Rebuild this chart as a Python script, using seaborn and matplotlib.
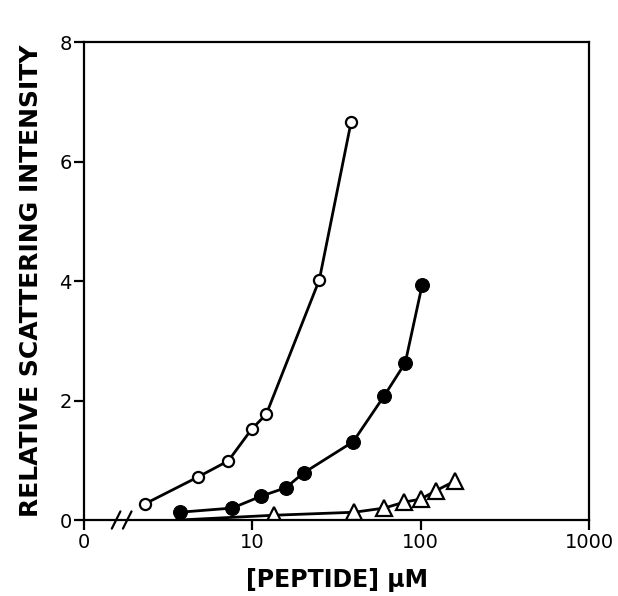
import numpy as np
import pandas as pd
import seaborn as sns
import matplotlib.pyplot as plt

# valores
open_x = [2.3, 4.75, 7.2, 9.9, 12.1, 25.0, 38.6]
open_y = [0.27, 0.72, 0.99, 1.52, 1.77, 4.02, 6.66]

filled_x = [3.7, 7.6, 11.3, 15.8, 20.2, 39.7, 60.8, 81.0, 102.0]
filled_y = [0.13, 0.20, 0.40, 0.54, 0.79, 1.31, 2.08, 2.63, 3.93]

tri_x = [3.7, 13.5, 40.3, 60.8, 80.0, 100.0, 123.0, 159.0]
tri_y = [0.0, 0.08, 0.13, 0.20, 0.30, 0.35, 0.49, 0.65]

x_ticks = [1, 10, 100, 1000]
x_tick_labels = ["0", "10", "100", "1000"]
y_ticks = [0, 2, 4, 6, 8]

sns.set_theme(style="ticks")
plt.rcParams["font.family"] = ["DejaVu Sans"]

fig = plt.figure(figsize=(6.18, 5.96), dpi=100)
ax = fig.add_axes([0.136, 0.1275, 0.817, 0.802])

df_open = pd.DataFrame({"x": open_x, "y": open_y})
df_filled = pd.DataFrame({"x": filled_x, "y": filled_y})
df_tri = pd.DataFrame({"x": tri_x, "y": tri_y})

sns.lineplot(data=df_tri, x="x", y="y", ax=ax, color="black", linewidth=2,
             marker="^", markersize=11, markerfacecolor="white",
             markeredgecolor="black", markeredgewidth=1.6, zorder=2)
sns.lineplot(data=df_filled, x="x", y="y", ax=ax, color="black", linewidth=2,
             marker="o", markersize=10, markerfacecolor="black",
             markeredgecolor="black", zorder=3)
sns.lineplot(data=df_open, x="x", y="y", ax=ax, color="black", linewidth=2,
             marker="o", markersize=8, markerfacecolor="white",
             markeredgecolor="black", markeredgewidth=1.6, zorder=4)

ax.set_xscale("log")
ax.set_xlim(1, 1000)
ax.set_ylim(0, 8)
ax.set_xticks(x_ticks)
ax.set_xticklabels(x_tick_labels)
ax.xaxis.set_minor_locator(plt.NullLocator())
ax.set_yticks(y_ticks)

for s in ax.spines.values():
    s.set_linewidth(1.6)
    s.set_color("black")

ax.tick_params(axis="both", direction="out", length=7, width=1.6,
               labelsize=14, colors="black", pad=2)

ax.set_xlabel("[PEPTIDE] μM", fontsize=17, fontweight="bold", labelpad=12,
              color="black")
ax.set_ylabel("RELATIVE SCATTERING INTENSITY", fontsize=18,
              fontweight="bold", labelpad=12, color="black")

# marcas de corte del eje
for dx in (0.0, 0.022):
    ax.plot([0.055 + dx, 0.072 + dx], [-0.018, 0.018], transform=ax.transAxes,
            color="black", linewidth=1.6, clip_on=False)

fig.savefig("out.png", dpi=100)
